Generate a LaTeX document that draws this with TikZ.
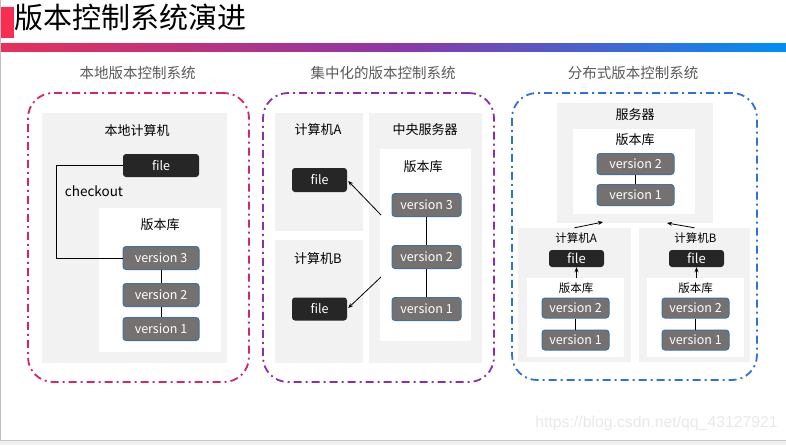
\documentclass[tikz,border=0pt]{standalone}
\usepackage{fontspec}
\setmainfont{Noto Sans CJK SC}
\setsansfont{Liberation Sans}
\usetikzlibrary{arrows.meta,calc}
\definecolor{boxgray}{HTML}{F2F2F2}
\definecolor{vergray}{HTML}{767171}
\definecolor{verblue}{HTML}{41719C}
\definecolor{fileblack}{HTML}{262626}
\definecolor{ttlgray}{HTML}{595959}
\definecolor{redblk}{HTML}{F82D52}
\definecolor{gradA}{HTML}{E8305A}
\definecolor{gradB}{HTML}{8E36A6}
\definecolor{gradC}{HTML}{008FF8}
\definecolor{pinkline}{HTML}{D6246E}
\definecolor{purpleline}{HTML}{8B2FA8}
\definecolor{blueline}{HTML}{2F6FE0}
\definecolor{wmgray}{HTML}{E8E8E8}
\tikzset{
  sz/.style 2 args={minimum width=#1pt, minimum height=#2pt},
  fs/.style={font=\fontsize{#1}{#1}\selectfont},
  gbox/.style={fill=boxgray, draw=none, inner sep=0pt},
  wbox/.style={fill=white, draw=none, inner sep=0pt},
  verbox/.style={fill=vergray, draw=verblue, line width=1pt, rounded corners=3pt, text=white, inner sep=0pt, fs=12.5},
  verboxs/.style={verbox, fs=12.5},
  filebox/.style={fill=fileblack, rounded corners=3pt, text=white, inner sep=0pt, fs=12.5},
  outerbox/.style={draw=#1, line width=1.8pt, rounded corners=25pt, dash pattern=on 8pt off 4pt on 2pt off 4pt, inner sep=0pt},
  ptitle/.style={text=ttlgray, inner sep=0pt, fs=14.5},
  lbl/.style={text=black, inner sep=0pt, fs=13},
  lbls/.style={text=black, inner sep=0pt, fs=11.5},
  conn/.style={line width=0.8pt, black},
  arr/.style={line width=0.8pt, black, -{Stealth[length=5pt,width=4pt]}},
}
\begin{document}
\begin{tikzpicture}[x=1pt,y=-1pt]
\useasboundingbox (0,0) rectangle (786,445);
% frame
\fill[fill=boxgray!80!gray!40] (0,440) rectangle (786,445);
\draw[line width=0.6pt, color=gray!45] (0,440) -- (786,440);
\draw[line width=1.2pt, color=gray!50] (0.6,0) -- (0.6,440);
% title
\fill[redblk] (1,7) rectangle (14,38);
\node[anchor=west, inner sep=0pt, fs=29] (title) at (14,17) {版本控制系统演进};
\shade[left color=gradA, right color=gradC, middle color=gradB] (1,43) rectangle (786,51);

% ---------- panel 1 ----------
\node[ptitle] (t1) at (137.5,73) {本地版本控制系统};
\node[outerbox=pinkline, sz={221}{289}] (o1) at (138.5,237.5) {};
\node[gbox, sz={185}{250}] (g1) at (134.5,238) {};
\node[lbl] (l1) at (137,131) {本地计算机};
\node[filebox, sz={76}{23}] (f1) at (161,165.5) {file};
\node[wbox, sz={122}{144}] (r1) at (160,280) {};
\node[lbl] (rl1) at (160,225) {版本库};
\node[verbox, sz={76}{23}] (v13) at (161,258) {version 3};
\node[verbox, sz={76}{23}] (v12) at (161,295) {version 2};
\node[verbox, sz={76}{23}] (v11) at (161,329) {version 1};
\draw[conn] (v13) -- (v12);
\draw[conn] (v12) -- (v11);
\draw[conn] (f1.west) -- ++(-66,0) |- (v13.west);
\node[lbl, fs=13.5] (co) at (94,191) {checkout};

% ---------- panel 2 ----------
\node[ptitle] (t2) at (383,73) {集中化的版本控制系统};
\node[outerbox=purpleline, sz={231}{289}] (o2) at (378.5,237.5) {};
\node[gbox, sz={88}{118}] (ga2) at (319,172) {};
\node[gbox, sz={88}{123}] (gb2) at (319,301.5) {};
\node[gbox, sz={113}{250}] (gs2) at (425.5,238) {};
\node[lbl] (la2) at (318,130) {计算机A};
\node[lbl] (lb2) at (318,259) {计算机B};
\node[lbl] (ls2) at (425,130) {中央服务器};
\node[wbox, sz={91}{192}] (r2) at (425.5,245) {};
\node[lbl] (rl2) at (423,167) {版本库};
\node[verbox, sz={69}{23}] (v23) at (426.5,205) {version 3};
\node[verbox, sz={69}{23}] (v22) at (426.5,257) {version 2};
\node[verbox, sz={69}{23}] (v21) at (426.5,309) {version 1};
\draw[conn] (v23) -- (v22);
\draw[conn] (v22) -- (v21);
\node[filebox, sz={55}{24}] (fa2) at (319.5,180) {file};
\node[filebox, sz={55}{23}] (fb2) at (319.5,309) {file};
\coordinate (pa2) at (381,215);
\coordinate (pb2) at (381,277);
\draw[arr] (pa2) -- ($(fa2.east)+(1,1)$);
\draw[arr] (pb2) -- ($(fb2.east)+(1,-1)$);

% ---------- panel 3 ----------
\node[ptitle] (t3) at (633,73) {分布式版本控制系统};
\node[outerbox=blueline, sz={245}{287}] (o3) at (634.5,236.5) {};
\node[gbox, sz={156}{120}] (gs3) at (635,163) {};
\node[lbl] (ls3) at (635,115) {服务器};
\node[wbox, sz={122}{85}] (rs3) at (634,171.5) {};
\node[lbl] (rls3) at (635,140) {版本库};
\node[verbox, sz={77}{21}] (vs2) at (635.5,164) {version 2};
\node[verbox, sz={77}{21}] (vs1) at (635.5,195) {version 1};
\draw[conn] (vs2) -- (vs1);
% computer A
\node[gbox, sz={113}{134}] (gca) at (574.5,295) {};
\node[lbls] (lca) at (576,238) {计算机A};
\node[filebox, sz={55}{17}, fs=13] (fca) at (576.5,258.5) {file};
\node[wbox, sz={97}{79}] (rca) at (575.5,317.5) {};
\node[lbls] (rlca) at (576,288) {版本库};
\node[verboxs, sz={67}{20}] (vca2) at (575.5,308) {version 2};
\node[verboxs, sz={67}{20}] (vca1) at (575.5,340) {version 1};
\draw[conn] (vca2) -- (vca1);
\draw[arr] (fca.south |- rca.north) -- (fca.south);
% computer B
\node[gbox, sz={111}{134}] (gcb) at (694.5,295) {};
\node[lbls] (lcb) at (695.5,238) {计算机B};
\node[filebox, sz={55}{17}, fs=13] (fcb) at (696.5,258.5) {file};
\node[wbox, sz={97}{79}] (rcb) at (695.5,317.5) {};
\node[lbls] (rlcb) at (695.5,288) {版本库};
\node[verboxs, sz={67}{20}] (vcb2) at (695.5,308) {version 2};
\node[verboxs, sz={67}{20}] (vcb1) at (695.5,340) {version 1};
\draw[conn] (vcb2) -- (vcb1);
\draw[arr] (fcb.south |- rcb.north) -- (fcb.south);
% upload arrows
\coordinate (sa) at (603,222);
\coordinate (sb) at (667,223);
\draw[arr] (gca.north) -- (sa);
\draw[arr] (gcb.north) -- (sb);

% watermark
\node[anchor=east, inner sep=0pt, text=wmgray, font=\sffamily\fontsize{15.8}{15.8}\selectfont] (wm) at (778,423) {https://blog.csdn.net/qq\_43127921};
\end{tikzpicture}
\end{document}
